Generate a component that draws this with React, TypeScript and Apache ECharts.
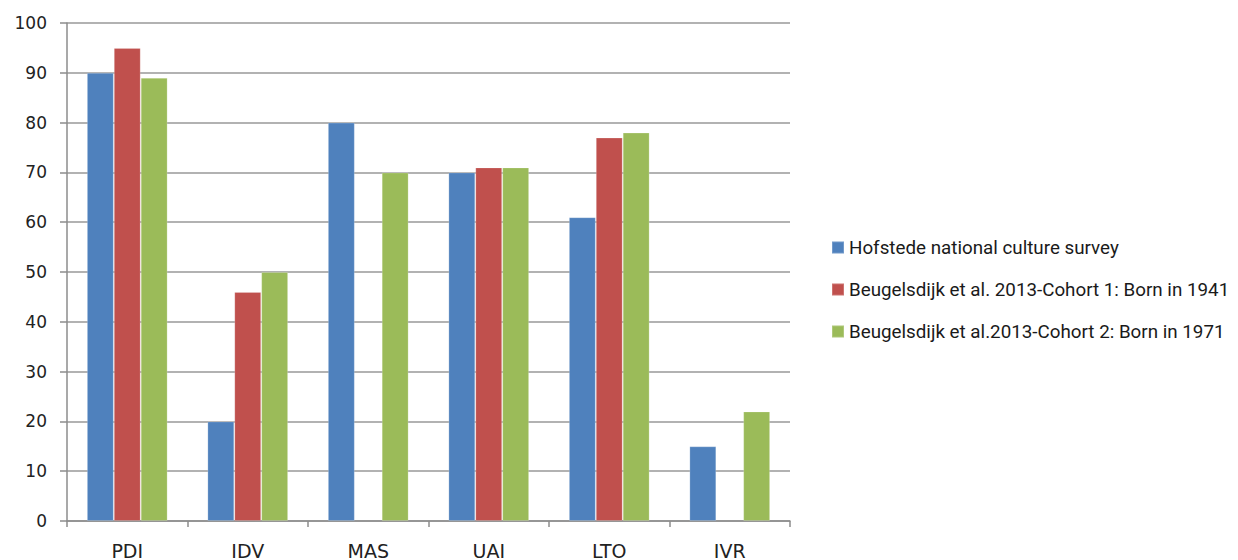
import React, { useEffect, useRef } from "react";
import * as echarts from "echarts";

const categories = ["PDI", "IDV", "MAS", "UAI", "LTO", "IVR"];
const seriesNames = [
  "Hofstede national culture survey",
  "Beugelsdijk et al. 2013-Cohort 1: Born in 1941",
  "Beugelsdijk et al.2013-Cohort 2: Born in 1971",
];
const hofstede = [90, 20, 80, 70, 61, 15];
const cohort1 = [95, 46, null, 71, 77, null];
const cohort2 = [89, 50, 70, 71, 78, 22];
const colors = ["#4F81BD", "#C0504D", "#9BBB59"];

export default function App() {
  const ref = useRef<HTMLDivElement>(null);
  useEffect(() => {
    if (!ref.current) return;
    const chart = echarts.init(ref.current, null, { renderer: "svg" });
    const data = [hofstede, cohort1, cohort2];
    chart.setOption({
      animation: false,
      backgroundColor: "#ffffff",
      grid: { left: 67, right: 448, top: 23, bottom: 37, containLabel: false },
      legend: {
        orient: "vertical",
        left: 826,
        top: 233,
        itemWidth: 12,
        itemHeight: 12,
        itemGap: 23,
        icon: "rect",
        data: seriesNames,
        textStyle: { fontFamily: "Roboto", fontSize: 18.8, color: "#1a1a1a", padding: [0, 0, 0, 0] },
      },
      xAxis: {
        type: "category",
        data: categories,
        axisLine: { show: true, lineStyle: { color: "#8c8c8c", width: 1.5 } },
        axisTick: { show: true, length: 6, lineStyle: { color: "#8c8c8c", width: 1.5 } },
        axisLabel: { fontFamily: "DejaVu Sans", fontSize: 19, color: "#222", margin: 20 },
      },
      yAxis: {
        type: "value",
        min: 0,
        max: 100,
        interval: 10,
        axisLine: { show: true, lineStyle: { color: "#8c8c8c", width: 1.5 } },
        axisTick: { show: true, length: 7, lineStyle: { color: "#8c8c8c", width: 1.5 } },
        splitLine: { show: true, lineStyle: { color: "#999999", width: 1.5 } },
        axisLabel: { fontFamily: "DejaVu Sans", fontSize: 17, color: "#222", margin: 20 },
      },
      series: seriesNames.map((name, i) => ({
        name,
        type: "bar",
        data: data[i],
        barGap: "0%",
        barCategoryGap: "33%",
        itemStyle: { color: colors[i], borderColor: "rgba(255,255,255,0.2)", borderWidth: 1 },
      })),
    });
    return () => chart.dispose();
  }, []);
  return (
    <div
      ref={ref}
      style={{ position: "fixed", left: 0, top: 0, width: 1238, height: 560, background: "#fff" }}
    />
  );
}
